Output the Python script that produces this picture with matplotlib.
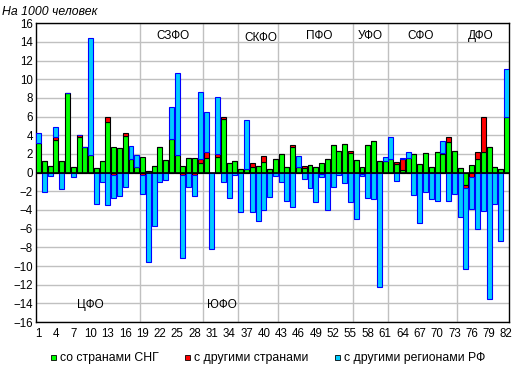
import numpy as np
import matplotlib
matplotlib.use("Agg")
from matplotlib import pyplot as plt
from matplotlib.patches import Rectangle

plt.rcParams['font.family'] = ['Liberation Sans', 'DejaVu Sans']

regions = list(range(1, 83))

# со странами СНГ
cis = [3.2, 1.2, 0.75, 3.5, 1.3, 8.5, 0.65, 3.85, 2.7, 1.9,
       0.55, 1.2, 5.4, 2.7, 2.6, 3.9, 1.5, 0.65, 1.65, 0.2,
       0.7, 2.8, 1.4, 3.65, 1.9, 0.75, 1.6, 1.55, 1.0, 1.6,
       0.0, 1.7, 5.7, 1.0, 1.3, 0.36, 0.4, 0.64, 0.71, 1.14,
       0.43, 1.43, 1.96, 0.64, 2.75, 0.64, 0.54, 0.79, 0.64, 1.0,
       1.43, 2.93, 2.36, 3.04, 2.14, 1.36, 0.64, 2.93, 3.43, 1.21,
       1.21, 1.43, 0.95, 0.29, 1.54, 1.96, 0.89, 2.14, 0.57, 2.18,
       2.0, 3.32, 2.32, 0.46, -1.32, 0.79, 1.43, 2.25, 2.71, 0.64,
       0.36, 6.0]
# с другими странами
other = [0, 0, 0, 0.3, 0, 0, 0, 0.15, 0, 0,
         0, 0, 0.55, -0.3, 0, 0.3, 0, 0, -0.3, 0,
         0, 0, 0, 0, 0, -0.2, 0, -0.25, 0.45, 0.65,
         0, 0.25, 0.3, 0, 0, 0, 0, 0.36, 0, 0.64,
         0, 0, 0, 0, 0.2, 0, 0.2, 0, 0, -0.18,
         0, 0, 0, 0, 0.18, 0, -0.18, 0, 0, 0,
         0, 0, 0.15, 1.14, 0, 0, 0, 0, 0, 0,
         0.14, 0.47, 0, 0, -0.36, -0.5, 0.82, 3.75, 0, 0,
         0, 0]
# с другими регионами РФ
rf = [1.0, -2.1, -0.4, 1.05, -1.8, 0, -0.5, 0, 0, 12.5,
      -3.4, -1.05, -3.5, -2.45, -2.55, -1.55, 1.4, 1.2, -2.0, -9.6,
      -5.75, -0.95, -0.8, 3.35, 8.75, -8.9, -1.5, -2.3, 7.15, 4.2,
      -8.2, 6.2, -0.95, -2.7, -0.2, -4.25, 5.24, -4.25, -5.2, -4.0,
      -2.57, -0.36, -1.04, -3.0, -3.64, 1.15, -0.71, -1.68, -3.18, -0.25,
      -4.04, -1.57, -0.29, -1.14, -3.18, -5.0, -0.18, -2.75, -2.86, -12.25,
      0.43, 2.36, -0.86, 0.11, 0.71, -2.43, -5.43, -2.1, -2.86, -3.0,
      1.22, -3.07, -2.29, -4.79, -8.68, -3.43, -6.07, -4.14, -13.57, -3.39,
      -7.32, 5.07]

district_names = ['ЦФО', 'СЗФО', 'ЮФО', 'СКФО', 'ПФО', 'УФО', 'СФО', 'ДФО']
district_bounds = [18.5, 29.5, 35.5, 42.5, 55.5, 61.5, 73.5]

W, H = 520, 376
fig = plt.figure(figsize=(W / 100, H / 100), dpi=100)
ax = fig.add_axes([0.0687, 0.1436, 0.9106, 0.7944])

x = np.array(regions)
series = [(cis, '#00FF00', 'black', 'со странами СНГ'),
          (other, '#FF0000', 'black', 'с другими странами'),
          (rf, '#00CCFF', '#0000FF', 'с другими регионами РФ')]
pos_bottom = np.zeros(len(x))
neg_bottom = np.zeros(len(x))
for vals, fc, ec, lab in series:
    v = np.array(vals, dtype=float)
    bottom = np.where(v >= 0, pos_bottom, neg_bottom)
    ax.bar(x, v, bottom=bottom, width=0.86, color=fc, edgecolor=ec,
           linewidth=0.8, zorder=3)
    pos_bottom = pos_bottom + np.where(v > 0, v, 0)
    neg_bottom = neg_bottom + np.where(v < 0, v, 0)

ax.set_xlim(0.5, 82.5)
ax.set_ylim(-16, 16)
ax.set_yticks(range(-16, 17, 2))
ax.set_xticks(range(1, 83, 3))
ax.tick_params(axis='y', length=0, labelsize=8.3, pad=2)
ax.tick_params(axis='x', length=0, labelsize=8.3, pad=4)
ax.yaxis.grid(True, color='#C0C0C0', linewidth=1, zorder=0)
ax.set_axisbelow(True)
for b in district_bounds:
    ax.axvline(b, color='#C0C0C0', linewidth=1, zorder=1)
ax.axhline(0, color='black', linewidth=1.2, zorder=4)
for s in ax.spines.values():
    s.set_color('black')
    s.set_linewidth(1)

# подписи округов
top_y = 14.6
bot_y = -14.2
ax.text(9.9, bot_y, district_names[0], ha='center', va='center', fontsize=8.5)
ax.text(24.2, top_y, district_names[1], ha='center', va='center', fontsize=8.5)
ax.text(32.8, bot_y, district_names[2], ha='center', va='center', fontsize=8.5)
ax.text(39.4, top_y - 0.2, district_names[3], ha='center', va='center', fontsize=8.5)
ax.text(49.6, top_y, district_names[4], ha='center', va='center', fontsize=8.5)
ax.text(58.4, top_y, district_names[5], ha='center', va='center', fontsize=8.5)
ax.text(67.2, top_y, district_names[6], ha='center', va='center', fontsize=8.5)
ax.text(77.6, top_y, district_names[7], ha='center', va='center', fontsize=8.5)

fig.text(2.5 / W, 1 - 12 / H, 'На 1000 человек', fontsize=8.8, style='italic',
         ha='left', va='center')

# легенда
leg_y = 357.5
leg_x = [50.5, 185, 334.5]
for (vals, fc, ec, lab), lx in zip(series, leg_x):
    fig.add_artist(Rectangle((lx / W, 1 - (leg_y + 2.5) / H), 5 / W, 5 / H,
                             transform=fig.transFigure, facecolor=fc,
                             edgecolor='black', linewidth=0.6))
    fig.text((lx + 9.5) / W, 1 - leg_y / H, lab, fontsize=8.8,
             ha='left', va='center')

fig.savefig('out.png', dpi=100)
